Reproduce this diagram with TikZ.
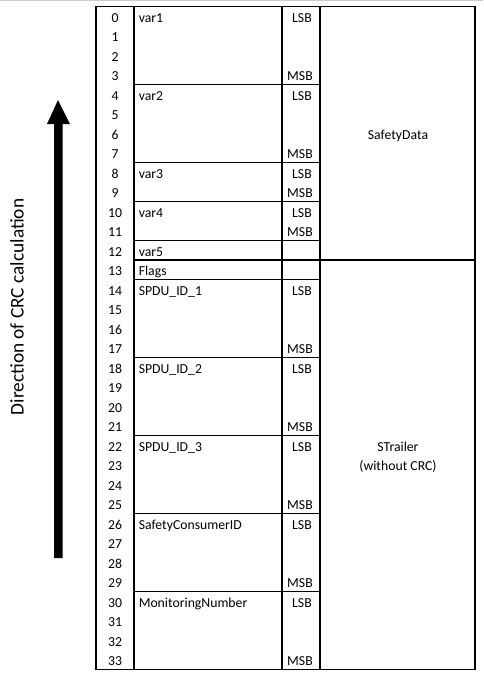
\documentclass[tikz,border=0pt]{standalone}
\usepackage{fontspec}
\setmainfont{Carlito}

\tikzset{
  cell/.style={font=\fontsize{10.3}{12}\selectfont, inner sep=0pt},
  grid/.style={line width=1.1pt, black}
}

\begin{document}
\begin{tikzpicture}[x=0.75pt, y=-0.75pt]
  \useasboundingbox (0,0) rectangle (483,679);
  \draw [gray!40, line width=0.8pt] (0,0.5) -- (483,0.5);
  \begin{scope}[grid]
    \draw (96,6.5) rectangle (475,669.5);
    \draw (134,6.5) -- (134,669.5);
    \draw (282,6.5) -- (282,669.5);
    \draw (320,6.5) -- (320,669.5);
    \foreach \r in {4,8,10,12,13,14,18,22,26,30}
      \draw (134,6.5+19.5*\r) -- (320,6.5+19.5*\r);
    \draw (320,6.5+19.5*13) -- (475,6.5+19.5*13);
  \end{scope}
  % byte numbers
  \foreach \i in {0,...,33}
    \node [cell, anchor=base] (n\i) at (115,22+19.5*\i) {\i};
  \foreach \r/\t in {0/var1, 4/var2, 8/var3, 10/var4, 12/var5, 13/Flags,
      14/SPDU\_ID\_1, 18/SPDU\_ID\_2, 22/SPDU\_ID\_3, 26/SafetyConsumerID, 30/MonitoringNumber}
    \node [cell, anchor=base west] (v\r) at (138.5,22+19.5*\r) {\t};
  \foreach \r in {0,4,8,10,14,18,22,26,30}
    \node [cell, anchor=base east] (lsb\r) at (312,22+19.5*\r) {LSB};
  \foreach \r in {3,7,9,11,17,21,25,29,33}
    \node [cell, anchor=base east] (msb\r) at (313,22+19.5*\r) {MSB};
  \node [cell, anchor=base] (SD) at (398,22+19.5*6) {SafetyData};
  \node [cell, anchor=base] (ST1) at (398,22+19.5*22) {STrailer};
  \node [cell, anchor=base] (ST2) at (398,22+19.5*23) {(without CRC)};
  % direction arrow
  \fill [black] (54,558) -- (54,124) -- (47,124) -- (58,100) -- (70,124) -- (62.5,124) -- (62.5,558) -- cycle;
  \node [rotate=90, inner sep=0pt, font=\fontsize{14.5}{16}\selectfont] (dir) at (17,307) {Direction of CRC calculation};
\end{tikzpicture}
\end{document}
